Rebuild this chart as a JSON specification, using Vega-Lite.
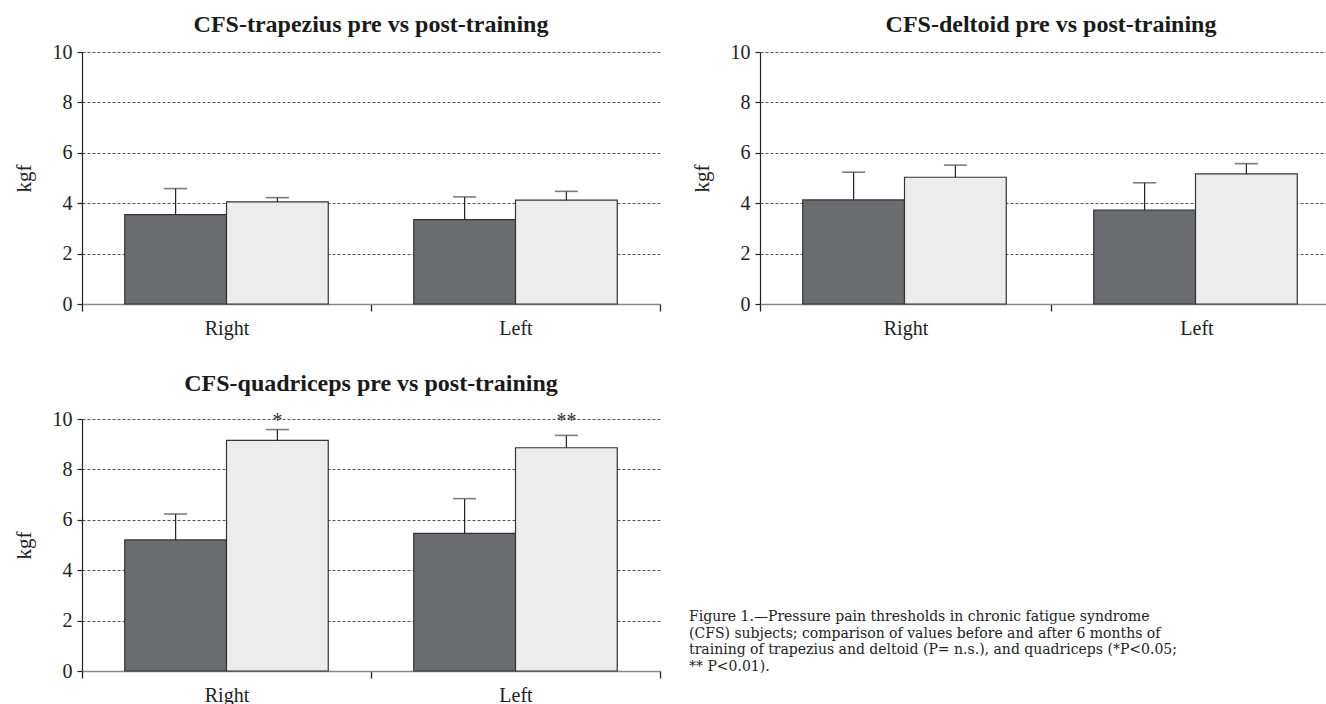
{
  "$schema": "https://vega.github.io/schema/vega-lite/v6.json",
  "background": "white",
  "padding": {"left": 13, "top": 13, "right": 0, "bottom": 0},
  "datasets": {
    "bars": [
      {"muscle": "trapezius", "side": "Right", "phase": "pre", "value": 3.55, "err": 4.58},
      {"muscle": "trapezius", "side": "Right", "phase": "post", "value": 4.05, "err": 4.22},
      {"muscle": "trapezius", "side": "Left", "phase": "pre", "value": 3.35, "err": 4.25},
      {"muscle": "trapezius", "side": "Left", "phase": "post", "value": 4.12, "err": 4.47},
      {"muscle": "deltoid", "side": "Right", "phase": "pre", "value": 4.13, "err": 5.23},
      {"muscle": "deltoid", "side": "Right", "phase": "post", "value": 5.03, "err": 5.51},
      {"muscle": "deltoid", "side": "Left", "phase": "pre", "value": 3.73, "err": 4.81},
      {"muscle": "deltoid", "side": "Left", "phase": "post", "value": 5.16, "err": 5.57},
      {"muscle": "quadriceps", "side": "Right", "phase": "pre", "value": 5.2, "err": 6.23},
      {"muscle": "quadriceps", "side": "Right", "phase": "post", "value": 9.15, "err": 9.58},
      {"muscle": "quadriceps", "side": "Left", "phase": "pre", "value": 5.46, "err": 6.84},
      {"muscle": "quadriceps", "side": "Left", "phase": "post", "value": 8.86, "err": 9.35}
    ],
    "sig": [
      {"side": "Right", "phase": "post", "mark": "*"},
      {"side": "Left", "phase": "post", "mark": "**"}
    ],
    "caption": [
      {"line": 1, "text": "Figure 1.—Pressure pain thresholds in chronic fatigue syndrome"},
      {"line": 2, "text": "(CFS) subjects; comparison of values before and after 6 months of"},
      {"line": 3, "text": "training of trapezius and deltoid (P= n.s.), and quadriceps (*P<0.05;"},
      {"line": 4, "text": "** P<0.01)."}
    ]
  },
  "config": {
    "view": {"stroke": null},
    "font": "Liberation Serif",
    "axis": {
      "labelFont": "Liberation Serif",
      "titleFont": "Liberation Serif",
      "labelFontSize": 20,
      "titleFontSize": 21,
      "titleFontWeight": "normal",
      "labelColor": "#222",
      "titleColor": "#222",
      "tickColor": "#222"
    },
    "axisY": {
      "grid": true,
      "gridDash": [3, 2],
      "gridColor": "#555",
      "gridWidth": 1,
      "tickCount": 5,
      "tickSize": 5,
      "labelPadding": 5,
      "titlePadding": 18,
      "domainColor": "#222",
      "domainWidth": 1.2,
      "tickWidth": 1.2
    },
    "axisX": {
      "grid": false,
      "labelAngle": 0,
      "tickSize": 7,
      "labelPadding": 7,
      "domainColor": "#888",
      "domainWidth": 1.6,
      "tickWidth": 1.3,
      "labelBaseline": "top"
    },
    "title": {
      "font": "Liberation Serif",
      "fontSize": 24,
      "fontWeight": "bold",
      "color": "#1a1a1a",
      "frame": "group",
      "baseline": "alphabetic",
      "anchor": "middle"
    }
  },
  "spacing": 34,
  "vconcat": [
    {
      "spacing": 30,
      "hconcat": [
        {
          "width": 578,
          "height": 252,
          "title": {"text": "CFS-trapezius pre vs post-training", "offset": 5},
          "encoding": {
            "x": {"field": "side", "type": "nominal", "sort": ["Right", "Left"], "title": null, "scale": {"paddingInner": 0, "paddingOuter": 0}, "axis": {"tickBand": "extent"}},
            "xOffset": {"field": "phase", "sort": ["pre", "post"], "scale": {"paddingInner": 0, "paddingOuter": 0.42}}
          },
          "layer": [
            {
              "data": {"name": "bars"},
              "transform": [{"filter": "datum.muscle === 'trapezius'"}],
              "mark": {"type": "bar", "stroke": "#333", "strokeWidth": 1.2},
              "encoding": {
                "y": {"field": "value", "type": "quantitative", "title": "kgf", "scale": {"domain": [0, 10]}},
                "color": {"field": "phase", "scale": {"domain": ["pre", "post"], "range": ["#6b6c70", "#ececec"]}, "legend": null}
              }
            },
            {
              "data": {"name": "bars"},
              "transform": [{"filter": "datum.muscle === 'trapezius'"}],
              "mark": {"type": "rule", "color": "#222", "strokeWidth": 1.2},
              "encoding": {
                "y": {"field": "value", "type": "quantitative", "title": "kgf"},
                "y2": {"field": "err"}
              }
            },
            {
              "data": {"name": "bars"},
              "transform": [{"filter": "datum.muscle === 'trapezius'"}],
              "mark": {"type": "tick", "color": "#444", "thickness": 1.6, "size": 23, "orient": "horizontal"},
              "encoding": {
                "y": {"field": "err", "type": "quantitative", "title": "kgf"}
              }
            }
          ]
        },
        {
          "width": 568,
          "height": 252,
          "title": {"text": "CFS-deltoid pre vs post-training", "offset": 5, "dx": 7},
          "encoding": {
            "x": {"field": "side", "type": "nominal", "sort": ["Right", "Left"], "title": null, "scale": {"paddingInner": 0, "paddingOuter": 0, "range": [0, 582]}, "axis": {"tickOffset": -145.5, "labelOffset": 145.5}},
            "xOffset": {"field": "phase", "sort": ["pre", "post"], "scale": {"paddingInner": 0, "paddingOuter": 0.42}}
          },
          "layer": [
            {
              "data": {"name": "bars"},
              "transform": [{"filter": "datum.muscle === 'deltoid'"}],
              "mark": {"type": "bar", "stroke": "#333", "strokeWidth": 1.2},
              "encoding": {
                "y": {"field": "value", "type": "quantitative", "title": "kgf", "scale": {"domain": [0, 10]}},
                "color": {"field": "phase", "scale": {"domain": ["pre", "post"], "range": ["#6b6c70", "#ececec"]}, "legend": null}
              }
            },
            {
              "data": {"name": "bars"},
              "transform": [{"filter": "datum.muscle === 'deltoid'"}],
              "mark": {"type": "rule", "color": "#222", "strokeWidth": 1.2},
              "encoding": {
                "y": {"field": "value", "type": "quantitative", "title": "kgf"},
                "y2": {"field": "err"}
              }
            },
            {
              "data": {"name": "bars"},
              "transform": [{"filter": "datum.muscle === 'deltoid'"}],
              "mark": {"type": "tick", "color": "#444", "thickness": 1.6, "size": 23, "orient": "horizontal"},
              "encoding": {
                "y": {"field": "err", "type": "quantitative", "title": "kgf"}
              }
            }
          ]
        }
      ]
    },
    {
      "spacing": 28,
      "hconcat": [
        {
          "width": 578,
          "height": 252,
          "title": {"text": "CFS-quadriceps pre vs post-training", "offset": 13},
          "encoding": {
            "x": {"field": "side", "type": "nominal", "sort": ["Right", "Left"], "title": null, "scale": {"paddingInner": 0, "paddingOuter": 0}, "axis": {"tickBand": "extent"}},
            "xOffset": {"field": "phase", "sort": ["pre", "post"], "scale": {"paddingInner": 0, "paddingOuter": 0.42}}
          },
          "layer": [
            {
              "data": {"name": "bars"},
              "transform": [{"filter": "datum.muscle === 'quadriceps'"}],
              "mark": {"type": "bar", "stroke": "#333", "strokeWidth": 1.2},
              "encoding": {
                "y": {"field": "value", "type": "quantitative", "title": "kgf", "scale": {"domain": [0, 10]}},
                "color": {"field": "phase", "scale": {"domain": ["pre", "post"], "range": ["#6b6c70", "#ececec"]}, "legend": null}
              }
            },
            {
              "data": {"name": "bars"},
              "transform": [{"filter": "datum.muscle === 'quadriceps'"}],
              "mark": {"type": "rule", "color": "#222", "strokeWidth": 1.2},
              "encoding": {
                "y": {"field": "value", "type": "quantitative", "title": "kgf"},
                "y2": {"field": "err"}
              }
            },
            {
              "data": {"name": "bars"},
              "transform": [{"filter": "datum.muscle === 'quadriceps'"}],
              "mark": {"type": "tick", "color": "#444", "thickness": 1.6, "size": 23, "orient": "horizontal"},
              "encoding": {
                "y": {"field": "err", "type": "quantitative", "title": "kgf"}
              }
            },
            {
              "data": {"name": "sig"},
              "mark": {"type": "text", "fontSize": 20, "baseline": "middle", "dy": 2, "color": "#333", "font": "Liberation Serif"},
              "encoding": {
                "y": {"datum": 10, "type": "quantitative"},
                "text": {"field": "mark"}
              }
            }
          ]
        },
        {
          "width": 636,
          "height": 270,
          "data": {"name": "caption"},
          "mark": {"type": "text", "align": "left", "baseline": "alphabetic", "font": "DejaVu Serif", "fontSize": 14, "color": "#222", "clip": true},
          "encoding": {
            "x": {"datum": 0, "type": "quantitative", "scale": {"domain": [0, 1]}, "axis": null},
            "y": {"field": "line", "type": "quantitative", "scale": {"domain": [-11.24, 5.12], "reverse": true}, "axis": null},
            "text": {"field": "text"}
          }
        }
      ]
    }
  ]
}
